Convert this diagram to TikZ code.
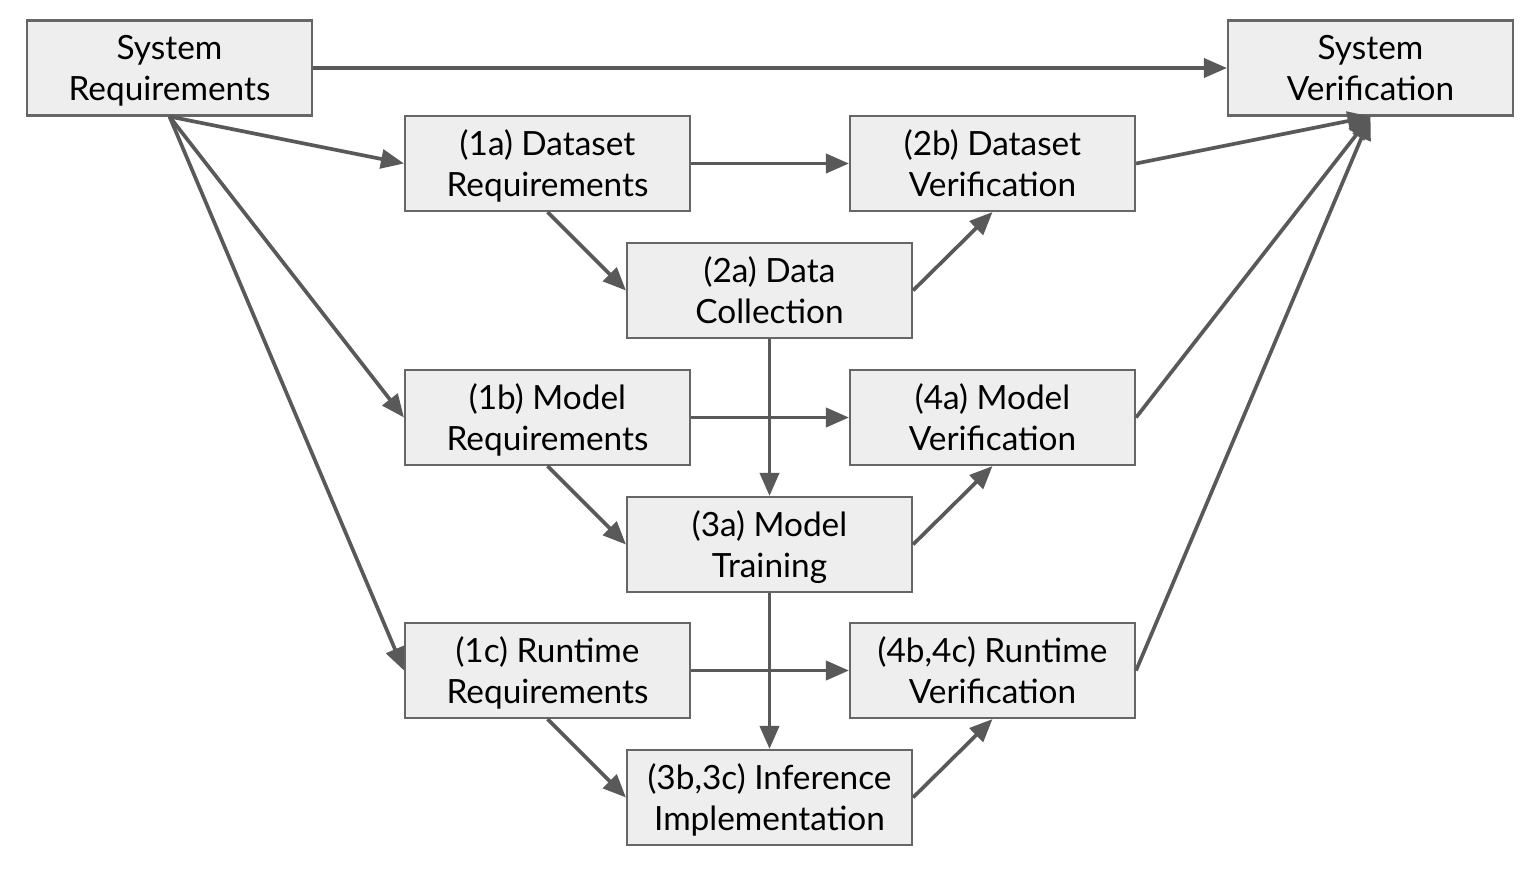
\documentclass[tikz,border=0pt]{standalone}
\usepackage{fontspec}
\setmainfont{Lato}
\usetikzlibrary{arrows.meta}
\definecolor{boxfill}{HTML}{EEEEEE}
\definecolor{boxline}{HTML}{666666}
\definecolor{arrline}{HTML}{595959}
\begin{document}
\begin{tikzpicture}[
        x=0.02cm, y=-0.02cm,
        blk/.style={draw=boxline, line width=1.2pt, fill=boxfill, align=center,
                    minimum width=5.7cm, minimum height=1.9cm, inner sep=0pt,
                    text depth=0pt,
                    font=\fontsize{19}{23.3}\selectfont},
        conn/.style={draw=arrline, line width=2.1pt,
                     -{Triangle[length=0.46cm, width=0.38cm]}},
    ]
        \useasboundingbox (0,0) rectangle (1531,870);
        % outer pair
        \node[blk] (sysreq) at (169.5,68)  {System\\Requirements};
        \node[blk] (sysver) at (1370.5,68) {System\\Verification};
        % requirements column
        \node[blk] (req1a) at (547.5,163.5) {(1a) Dataset\\Requirements};
        \node[blk] (req1b) at (547.5,417.5) {(1b) Model\\Requirements};
        \node[blk] (req1c) at (547.5,670.5) {(1c) Runtime\\Requirements};
        % implementation column
        \node[blk] (impl2a) at (769.5,290.5) {(2a) Data\\Collection};
        \node[blk] (impl3a) at (769.5,544.5) {(3a) Model\\Training};
        \node[blk] (impl3bc) at (769.5,797.5) {(3b,3c) Inference\\Implementation};
        % verification column
        \node[blk] (ver2b) at (992.5,163.5) {(2b) Dataset\\Verification};
        \node[blk] (ver4a) at (992.5,417.5) {(4a) Model\\Verification};
        \node[blk] (ver4bc) at (992.5,670.5) {(4b,4c) Runtime\\Verification};
        % top link
        \draw[conn] (sysreq.east) -- (sysver.west);
        % system requirements down to each
        \draw[conn] (sysreq.south) -- (req1a.west);
        \draw[conn] (sysreq.south) -- (req1b.west);
        \draw[conn] (sysreq.south) -- (req1c.west);
        % dataset row
        \draw[conn] (req1a.east) -- (ver2b.west);
        \draw[conn] (req1a.south) -- (impl2a.west);
        \draw[conn] (impl2a.east) -- (ver2b.south);
        \draw[conn] (ver2b.east) -- (sysver.south);
        % model row
        \draw[conn] (impl2a.south) -- (impl3a.north);
        \draw[conn] (req1b.east) -- (ver4a.west);
        \draw[conn] (req1b.south) -- (impl3a.west);
        \draw[conn] (impl3a.east) -- (ver4a.south);
        \draw[conn] (ver4a.east) -- (sysver.south);
        % runtime row
        \draw[conn] (impl3a.south) -- (impl3bc.north);
        \draw[conn] (req1c.east) -- (ver4bc.west);
        \draw[conn] (req1c.south) -- (impl3bc.west);
        \draw[conn] (impl3bc.east) -- (ver4bc.south);
        \draw[conn] (ver4bc.east) -- (sysver.south);
    \end{tikzpicture}
\end{document}
